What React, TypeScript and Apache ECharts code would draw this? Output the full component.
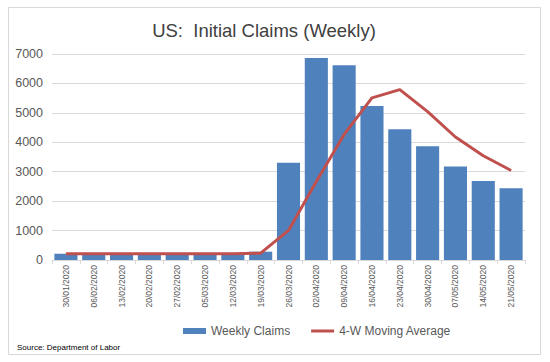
import React, { useEffect, useRef } from "react";
import * as echarts from "echarts";

const categories = [
  "30/01/2020", "06/02/2020", "13/02/2020", "20/02/2020", "27/02/2020", "05/03/2020",
  "12/03/2020", "19/03/2020", "26/03/2020", "02/04/2020", "09/04/2020", "16/04/2020",
  "23/04/2020", "30/04/2020", "07/05/2020", "14/05/2020", "21/05/2020",
];
const weeklyClaims = [216, 204, 211, 220, 217, 216, 211, 282, 3307, 6867, 6615, 5237, 4442, 3867, 3176, 2687, 2438];
const movingAverage = [212, 212, 212, 213, 213, 216, 214, 232, 1004, 2668, 4268, 5507, 5790, 5040, 4180, 3543, 3042];
const yTicks = { min: 0, max: 7000, interval: 1000 };

export default function App() {
  const ref = useRef<HTMLDivElement>(null);
  useEffect(() => {
    if (!ref.current) return;
    const chart = echarts.init(ref.current, null, { renderer: "svg" });
    const font = "'Liberation Sans', Arial, sans-serif";
    chart.setOption({
      animation: false,
      backgroundColor: "#ffffff",
      textStyle: { fontFamily: font },
      title: {
        text: "US:  Initial Claims (Weekly)",
        left: 259,
        textAlign: "center",
        top: 16,
        textStyle: { fontSize: 18.5, fontWeight: "normal", color: "#404040", fontFamily: font },
      },
      grid: { left: 52, right: 25, top: 54, bottom: 102 },
      legend: {
        left: 178,
        top: 320,
        itemWidth: 23,
        itemHeight: 6,
        itemGap: 21,
        itemTextGap: 11,
        textStyle: { fontSize: 12, color: "#595959", fontFamily: font },
        data: [
          { name: "Weekly Claims", icon: "rect" },
          {
            name: "4-W Moving Average",
            icon: "path://M0,0L23,0M0,6L23,6M0,1.5L23,1.5L23,4.5L0,4.5Z",
            itemStyle: { color: "#c0504d" },
          },
        ],
      },
      xAxis: {
        type: "category",
        data: categories,
        boundaryGap: true,
        axisLine: { lineStyle: { color: "#d9d9d9" } },
        axisTick: { show: true, length: 4, alignWithLabel: false, lineStyle: { color: "#d9d9d9" } },
        axisLabel: { rotate: 90, fontSize: 8.5, color: "#595959", margin: 5, interval: 0, fontFamily: font },
      },
      yAxis: {
        type: "value",
        min: yTicks.min,
        max: yTicks.max,
        interval: yTicks.interval,
        axisLine: { show: false },
        axisTick: { show: false },
        axisLabel: {
          fontSize: 12.5,
          color: "#595959",
          margin: 9,
          fontFamily: font,
          formatter: (v: number) => String(v),
        },
        splitLine: { lineStyle: { color: "#d9d9d9" } },
      },
      series: [
        {
          name: "Weekly Claims",
          type: "bar",
          data: weeklyClaims,
          barCategoryGap: "17%",
          itemStyle: { color: "#4f81bd" },
        },
        {
          name: "4-W Moving Average",
          type: "line",
          data: movingAverage,
          symbol: "none",
          lineStyle: { color: "#c0504d", width: 3 },
          itemStyle: { color: "#c0504d" },
        },
      ],
      graphic: [
        {
          type: "rect",
          shape: { x: 8.5, y: 7.5, width: 532, height: 347 },
          style: { fill: "none", stroke: "#d9d9d9", lineWidth: 1 },
          silent: true,
        },
        {
          type: "text",
          left: 17,
          top: 343,
          style: { text: "Source: Department of Labor", fontSize: 8, fill: "#000000", fontFamily: font },
        },
      ],
    });
    return () => chart.dispose();
  }, []);
  return (
    <div
      ref={ref}
      style={{ position: "fixed", left: 0, top: 0, width: 550, height: 362 }}
    />
  );
}
